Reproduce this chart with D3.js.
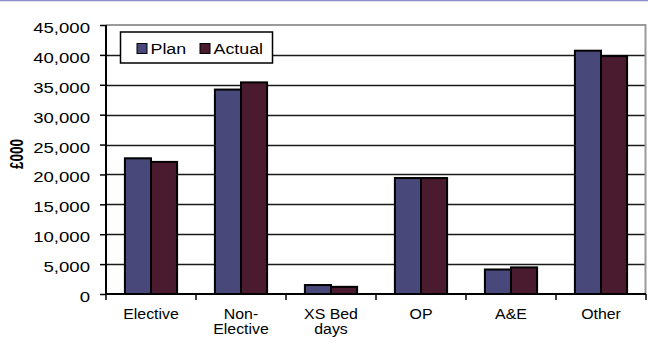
<!DOCTYPE html>
<html>
<head>
<meta charset="utf-8">
<script src="https://cdn.jsdelivr.net/npm/d3@7"></script>
<style>
  html, body { margin: 0; padding: 0; background: #ffffff; }
  svg { display: block; }
  text { font-family: "Liberation Sans", Arial, sans-serif; fill: #000; }
</style>
</head>
<body>
<svg id="chart" width="648" height="347"></svg>
<script>
// Spend by point of delivery, plan vs actual (£000)
const categories = ["Elective", "Non-\nElective", "XS Bed\ndays", "OP", "A&E", "Other"];
const seriesNames = ["Plan", "Actual"];
const planValues = [22700, 34200, 1500, 19400, 4100, 40700];
const actualValues = [22100, 35400, 1200, 19400, 4450, 39800];
const yTickValues = [0, 5000, 10000, 15000, 20000, 25000, 30000, 35000, 40000, 45000];
const seriesColors = ["#48487a", "#4a1a2e"];

const svg = d3.select("#chart");
const W = 648, H = 347;
const plot = { left: 106, right: 646, top: 25, bottom: 294 };

// thin lavender rule across the very top
svg.append("line")
  .attr("x1", 0).attr("x2", W).attr("y1", 0.5).attr("y2", 0.5)
  .attr("stroke", "#8c8cc8").attr("stroke-width", 1.5);

const x = d3.scaleBand()
  .domain(categories)
  .range([plot.left, plot.right])
  .paddingInner(0.42)
  .paddingOuter(0.21);

const xInner = d3.scaleBand()
  .domain(seriesNames)
  .range([0, x.bandwidth()]);

const y = d3.scaleLinear()
  .domain([0, 45000])
  .range([plot.bottom, plot.top]);

const fmt = d3.format(",");

// horizontal gridlines
svg.append("g")
  .selectAll("line")
  .data(yTickValues.filter(v => v > 0 && v < 45000))
  .join("line")
  .attr("x1", plot.left).attr("x2", plot.right)
  .attr("y1", d => Math.round(y(d)) + 0.5).attr("y2", d => Math.round(y(d)) + 0.5)
  .attr("stroke", "#1a1a1a").attr("stroke-width", 1.4);

// grey frame on top and right of the plot area
svg.append("path")
  .attr("d", `M${plot.left},${plot.top} H${plot.right - 0.5} V${plot.bottom}`)
  .attr("fill", "none").attr("stroke", "#9a9a9a").attr("stroke-width", 2);

// bars
const rows = categories.map((c, i) => ({ cat: c, values: [planValues[i], actualValues[i]] }));
const groups = svg.append("g")
  .selectAll("g")
  .data(rows)
  .join("g")
  .attr("transform", d => `translate(${x(d.cat)},0)`);

groups.selectAll("rect")
  .data(d => d.values.map((v, k) => ({ name: seriesNames[k], value: v, k })))
  .join("rect")
  .attr("x", d => xInner(d.name))
  .attr("width", xInner.bandwidth())
  .attr("y", d => y(d.value))
  .attr("height", d => y(0) - y(d.value))
  .attr("fill", d => seriesColors[d.k])
  .attr("stroke", "#000").attr("stroke-width", 2);

// y axis
const yAxis = svg.append("g")
  .attr("transform", `translate(${plot.left},0)`)
  .call(d3.axisLeft(y).tickValues(yTickValues).tickSize(6).tickPadding(0).tickFormat(fmt));
yAxis.select(".domain").attr("stroke", "#000").attr("stroke-width", 2)
  .attr("d", `M0,${plot.top}V${plot.bottom}`);
yAxis.selectAll(".tick line").attr("stroke", "#000").attr("stroke-width", 1.5);
yAxis.selectAll(".tick text")
  .attr("x", null).attr("dy", null)
  .attr("text-anchor", "end")
  .style("font-size", "15.5px")
  .attr("transform", "translate(-16,7.5) scale(1.2,1)");

// x axis: baseline and boundary ticks between categories
const boundaries = categories.map(c => x(c) - x.step() * x.paddingInner() / 2)
  .concat([plot.right]);
svg.append("line")
  .attr("x1", plot.left).attr("x2", plot.right)
  .attr("y1", plot.bottom).attr("y2", plot.bottom)
  .attr("stroke", "#000").attr("stroke-width", 2);
svg.append("g")
  .selectAll("line")
  .data(boundaries)
  .join("line")
  .attr("x1", d => d).attr("x2", d => d)
  .attr("y1", plot.bottom).attr("y2", plot.bottom + 6)
  .attr("stroke", "#000").attr("stroke-width", 1.5);

// category labels (multi-line)
const catLabels = svg.append("g")
  .selectAll("g")
  .data(categories)
  .join("g")
  .attr("transform", d => `translate(${x(d) + x.bandwidth() / 2},319) scale(1.06,1)`);
catLabels.selectAll("text")
  .data(d => d.split("\n"))
  .join("text")
  .attr("text-anchor", "middle")
  .attr("y", (d, i) => i * 15.5)
  .style("font-size", "15px")
  .text(d => d);

// y axis title
svg.append("text")
  .attr("transform", "translate(23,154) rotate(-90) scale(1,1.3)")
  .attr("text-anchor", "middle")
  .style("font-size", "13.5px")
  .style("font-weight", "bold")
  .text("£000");

// legend
const legend = svg.append("g");
legend.append("rect")
  .attr("x", 120.5).attr("y", 32).attr("width", 152).attr("height", 31)
  .attr("fill", "#fff").attr("stroke", "#000").attr("stroke-width", 1.5);
const legendX = [137, 200];
const items = legend.selectAll("g.item")
  .data(seriesNames)
  .join("g")
  .attr("class", "item")
  .attr("transform", (d, i) => `translate(${legendX[i]},0)`);
items.append("rect")
  .attr("x", 0).attr("y", 43.5).attr("width", 10).attr("height", 10)
  .attr("fill", (d, i) => seriesColors[i])
  .attr("stroke", "#000").attr("stroke-width", 1);
items.append("text")
  .attr("transform", "translate(13.5,53.5) scale(1.15,1)")
  .style("font-size", "15.5px")
  .text(d => d);
</script>
</body>
</html>
